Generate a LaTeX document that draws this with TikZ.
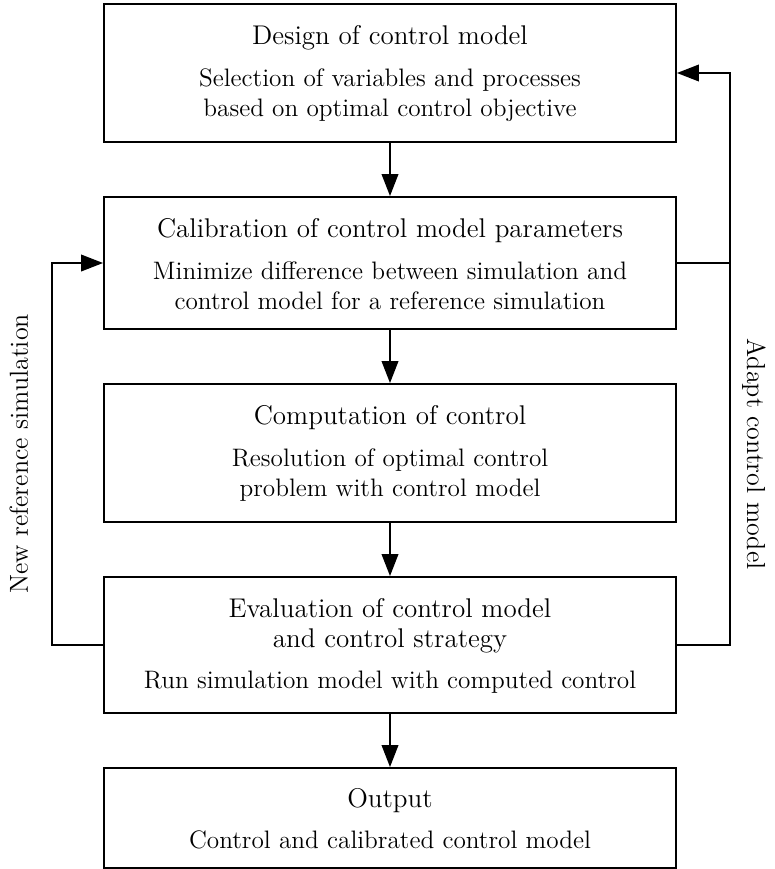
\documentclass[tikz,border=0pt]{standalone}
\usepackage{fontspec}
\usetikzlibrary{arrows.meta}
\tikzset{
  box/.style={draw, line width=0.85pt, rectangle, minimum width={572*0.4455pt}, inner sep=0pt},
  ttl/.style={anchor=base, inner sep=0pt, font=\fontsize{12.05}{14}\selectfont},
  sub/.style={anchor=base, inner sep=0pt, font=\fontsize{11.25}{13}\selectfont},
  lbl/.style={anchor=base, inner sep=0pt, font=\fontsize{11.6}{13}\selectfont},
  arr/.style={line width=0.85pt, -{Triangle[length=9.8pt,width=7.4pt]}},
  ln/.style={line width=0.85pt}
}
\begin{document}
\begin{tikzpicture}[x=0.4455pt,y=-0.4455pt]
\useasboundingbox (0,0) rectangle (774,869);
% boxes
\node[box, minimum height={138*0.4455pt}] (b1) at (390,73) {};
\node[box, minimum height={132*0.4455pt}] (b2) at (390,263) {};
\node[box, minimum height={138*0.4455pt}] (b3) at (390,453) {};
\node[box, minimum height={136*0.4455pt}] (b4) at (390,645) {};
\node[box, minimum height={100*0.4455pt}] (b5) at (390,818) {};
% texts
\node[ttl] (t1) at (390,44) {Design of control model};
\node[sub] (s1a) at (390,86) {Selection of variables and processes};
\node[sub] (s1b) at (390,116) {based on optimal control objective};
\node[ttl] (t2) at (390,237) {Calibration of control model parameters};
\node[sub] (s2a) at (390,279) {Minimize difference between simulation and};
\node[sub] (s2b) at (390,309) {control model for a reference simulation};
\node[ttl] (t3) at (390,424) {Computation of control};
\node[sub] (s3a) at (390,466) {Resolution of optimal control};
\node[sub] (s3b) at (390,496) {problem with control model};
\node[ttl] (t4a) at (390,617) {Evaluation of control model};
\node[ttl] (t4b) at (390,647) {and control strategy};
\node[sub] (s4) at (390,688) {Run simulation model with computed control};
\node[ttl] (t5) at (390,807) {Output};
\node[sub] (s5) at (390,848) {Control and calibrated control model};
% main arrows
\draw[arr] (b1) -- (b2);
\draw[arr] (b2) -- (b3);
\draw[arr] (b3) -- (b4);
\draw[arr] (b4) -- (b5);
% loops
\coordinate (L) at (52,0);
\coordinate (R) at (730,0);
\draw[arr] (b4.west) -- (b4.west -| L) |- (b2.west);
\draw[arr] (b4.east) -- (b4.east -| R) |- (b1.east);
\draw[ln] (b2.east) -- (b2.east -| R);
% labels
\node[lbl, rotate=90] (lnew) at (28,454) {New reference simulation};
\node[lbl, rotate=-90] (ladapt) at (747,454) {Adapt control model};
\end{tikzpicture}
\end{document}
